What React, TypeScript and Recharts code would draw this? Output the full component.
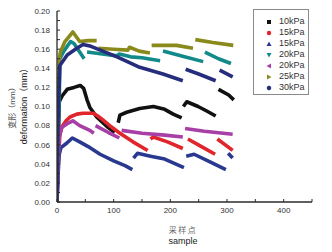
import React from "react";
import { LineChart, Line, XAxis, YAxis } from "recharts";

type Pt = [number, number | null];

// sample index, deformation (mm); null = gap between loading steps
const kPa10: Pt[] = [
  [0, 0], [2, 0.06], [4, 0.105], [9, 0.111], [18, 0.118], [30, 0.12], [41, 0.122],
  [47, 0.119], [53, 0.107], [58, 0.099], [70, 0.089], [88, 0.079], [102, 0.073],
  [105, null],
  [108, 0.083], [111, 0.091], [123, 0.094], [146, 0.098], [170, 0.1], [190, 0.097],
  [205, 0.092], [220, 0.088],
  [221, null],
  [223, 0.1], [229, 0.105], [249, 0.1], [265, 0.095], [280, 0.09],
  [283, null],
  [285, 0.118], [303, 0.112], [312, 0.107],
];

const kPa15a: Pt[] = [
  [0, 0], [2, 0.04], [5, 0.07], [9, 0.079], [16, 0.085], [23, 0.089], [35, 0.092],
  [46, 0.093], [64, 0.093], [72, 0.09], [81, 0.086], [95, 0.079], [111, 0.072],
  [134, 0.063], [160, 0.054],
  [162, null],
  [165, 0.066], [170, 0.068], [195, 0.063], [222, 0.056],
  [226, null],
  [231, 0.066], [255, 0.058], [279, 0.05],
  [281, null],
  [283, 0.066], [310, 0.054],
];

const kPa15b: Pt[] = [
  [0, 0], [2, 0.03], [4, 0.05], [7, 0.057], [18, 0.062], [27, 0.067], [40, 0.063],
  [55, 0.058], [76, 0.05], [100, 0.043], [120, 0.038], [133, 0.034],
  [134, null],
  [135, 0.046], [142, 0.051], [165, 0.048], [190, 0.045], [224, 0.036],
  [226, null],
  [228, 0.048], [242, 0.05], [270, 0.042], [298, 0.034],
  [300, null],
  [302, 0.051], [310, 0.046],
];

const kPa20a: Pt[] = [
  [0, 0], [2, 0.07], [4, 0.105], [5, 0.15], [12, 0.158], [24, 0.168], [30, 0.166],
  [40, 0.157], [48, 0.15],
  [50, null],
  [53, 0.157], [80, 0.155], [106, 0.153], [110, 0.155], [130, 0.152], [150, 0.151],
  [182, 0.148],
  [184, null],
  [187, 0.158], [220, 0.153], [258, 0.147],
  [259, null],
  [261, 0.157], [285, 0.15], [307, 0.145],
];

const kPa20b: Pt[] = [
  [0, 0], [2, 0.04], [4, 0.068], [8, 0.078], [18, 0.082], [28, 0.085], [40, 0.08],
  [58, 0.075], [65, 0.072],
  [66, null],
  [68, 0.08], [90, 0.073], [110, 0.067],
  [112, null],
  [114, 0.075], [150, 0.072], [190, 0.07], [222, 0.068],
  [224, null],
  [226, 0.077], [260, 0.074], [310, 0.071],
];

const kPa25: Pt[] = [
  [0, 0], [2, 0.1], [4, 0.15], [6, 0.157], [14, 0.168], [28, 0.178], [40, 0.168],
  [55, 0.169], [70, 0.169],
  [71, null],
  [73, 0.161], [100, 0.16], [125, 0.159], [128, 0.162], [145, 0.158], [164, 0.156],
  [165, null],
  [167, 0.164], [211, 0.164], [240, 0.161],
  [242, null],
  [244, 0.17], [275, 0.167], [311, 0.164],
];

const kPa30: Pt[] = [
  [0, 0], [2, 0.09], [4, 0.125], [5, 0.143], [18, 0.154], [35, 0.161], [46, 0.165],
  [60, 0.163], [106, 0.152], [146, 0.141], [187, 0.134], [222, 0.127],
  [224, null],
  [227, 0.139], [250, 0.134], [280, 0.127],
  [284, null],
  [287, 0.138], [310, 0.131],
];

const seriesNames = ["10kPa", "15kPa", "15kPa", "20kPa", "20kPa", "25kPa", "30kPa"];
const seriesValues = [kPa10, kPa15a, kPa15b, kPa20a, kPa20b, kPa25, kPa30];
const seriesColors = ["#111111", "#e0252c", "#2a3990", "#138a8a", "#a73fa6", "#8a8a1c", "#262d7c"];
const seriesShapes = ["square", "circle", "up", "down", "left", "right", "hex"];

const xTicks = [0, 50, 100, 150, 200, 250, 300, 350, 400, 450];
const xTickLabels = ["0", "", "100", "", "200", "", "300", "", "400", ""];
const yTicks = [
  0, 0.01, 0.02, 0.03, 0.04, 0.05, 0.06, 0.07, 0.08, 0.09, 0.1,
  0.11, 0.12, 0.13, 0.14, 0.15, 0.16, 0.17, 0.18, 0.19, 0.2,
];

const FONT = "'Liberation Sans', Arial, 'Noto Sans CJK SC', sans-serif";

function Marker({ shape, color }: { shape: string; color: string }) {
  const c = 4;
  let node: React.ReactNode;
  if (shape === "square") node = <rect x={2} y={2} width={4} height={4} fill={color} />;
  else if (shape === "circle") node = <circle cx={c} cy={c} r={2.2} fill={color} />;
  else if (shape === "up") node = <polygon points="4,1.5 6.5,6 1.5,6" fill={color} />;
  else if (shape === "down") node = <polygon points="1.5,2 6.5,2 4,6.5" fill={color} />;
  else if (shape === "left") node = <polygon points="1.5,4 6,1.5 6,6.5" fill={color} />;
  else if (shape === "right") node = <polygon points="2,1.5 6.5,4 2,6.5" fill={color} />;
  else node = <polygon points="4,1.6 6.1,2.8 6.1,5.2 4,6.4 1.9,5.2 1.9,2.8" fill={color} />;
  return (
    <svg width={8} height={8} style={{ display: "block" }}>
      {node}
    </svg>
  );
}

export default function App() {
  return (
    <div style={{ position: "absolute", left: 0, top: 0, width: 332, height: 252, background: "#fff", fontFamily: FONT }}>
      <LineChart width={332} height={252} margin={{ top: 11, right: 20, bottom: 30, left: 17 }}>
        <XAxis
          type="number"
          dataKey="x"
          domain={[0, 450]}
          ticks={xTicks}
          interval={0}
          tickFormatter={(v, i) => xTickLabels[i] ?? ""}
          height={20}
          tickSize={-3}
          tickMargin={8}
          axisLine={{ stroke: "#2b2b2b", strokeWidth: 1.3 }}
          tickLine={{ stroke: "#2b2b2b" }}
          tick={{ fontSize: 8, fill: "#333", fontFamily: FONT }}
          allowDataOverflow
        />
        <YAxis
          type="number"
          domain={[0, 0.2]}
          ticks={yTicks}
          interval={0}
          tickFormatter={(v) => (Math.round(v * 100) % 2 === 0 ? v.toFixed(2) : "")}
          width={40}
          tickSize={-3}
          tickMargin={10}
          axisLine={{ stroke: "#2b2b2b", strokeWidth: 1.3 }}
          tickLine={{ stroke: "#2b2b2b" }}
          tick={{ fontSize: 8, fill: "#333", fontFamily: FONT }}
          allowDataOverflow
        />
        {seriesValues.map((vals, i) => (
          <Line
            key={i}
            data={vals.map(([x, y]) => ({ x, y }))}
            dataKey="y"
            type="linear"
            stroke={seriesColors[i]}
            strokeWidth={3.6}
            strokeLinejoin="round"
            dot={false}
            connectNulls={false}
            isAnimationActive={false}
          />
        ))}
      </LineChart>

      {/* axis titles */}
      <div
        style={{
          position: "absolute", left: 11, top: 106, transform: "translate(-50%, -50%) rotate(-90deg)",
          fontSize: 8, color: "#444", whiteSpace: "nowrap",
        }}
      >
        变形（mm）
      </div>
      <div
        style={{
          position: "absolute", left: 23, top: 104, transform: "translate(-50%, -50%) rotate(-90deg)",
          fontSize: 9, color: "#222", whiteSpace: "nowrap",
        }}
      >
        deformation（mm）
      </div>
      <div
        style={{
          position: "absolute", left: 183, top: 229, transform: "translate(-50%, -50%)",
          fontSize: 8, color: "#666", letterSpacing: 1.5, whiteSpace: "nowrap",
        }}
      >
        采样点
      </div>
      <div
        style={{
          position: "absolute", left: 183, top: 241, transform: "translate(-50%, -50%)",
          fontSize: 9, color: "#222", whiteSpace: "nowrap",
        }}
      >
        sample
      </div>

      {/* legend */}
      <div
        style={{
          position: "absolute", left: 253, top: 9, width: 56, height: 86,
          border: "1px solid #8a8a8a", boxSizing: "border-box", paddingTop: 6,
        }}
      >
        {seriesNames.map((name, i) => (
          <div key={i} style={{ display: "flex", alignItems: "center", height: 11, paddingLeft: 11 }}>
            <Marker shape={seriesShapes[i]} color={seriesColors[i]} />
            <span style={{ marginLeft: 6, fontSize: 9, color: "#333", lineHeight: "11px" }}>{name}</span>
          </div>
        ))}
      </div>
    </div>
  );
}
